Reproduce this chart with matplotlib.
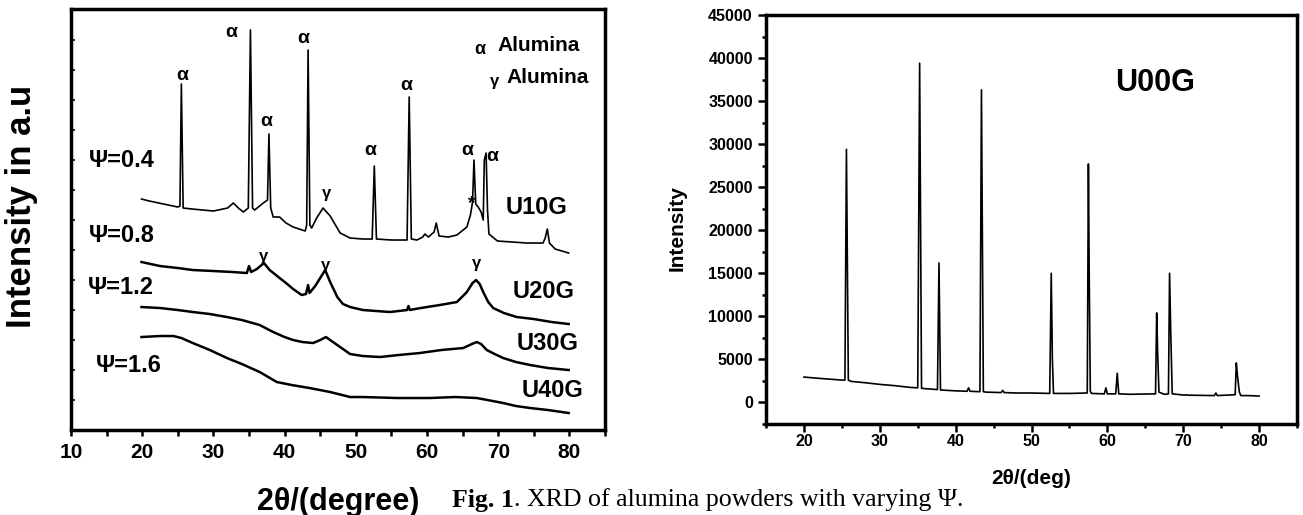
import matplotlib
matplotlib.use("Agg")
import matplotlib.pyplot as plt

plt.rcParams['font.family'] = ['Liberation Sans', 'DejaVu Sans']
plt.rcParams['font.weight'] = 'bold'

# ---- left panel: XRD of U10G..U40G (arbitrary units, stacked) ----
u10_x = [19.9, 21, 23, 25.0, 25.3, 25.5, 25.75, 27, 30, 32.0, 32.8, 33.5, 34.2, 34.9, 35.2, 35.5,
         35.8, 37.0, 37.6, 37.8, 38.05, 38.4, 39.3, 40.2, 41.2, 42.9, 43.1, 43.3, 43.55, 43.8, 44.5,
         45.4, 46.4, 47.8, 49.2, 51.0, 52.3, 52.6, 52.9, 55, 57.2, 57.5, 57.8, 58.6, 59.4, 59.7, 60.2,
         61.0, 61.3, 61.7, 63.0, 64.2, 65.6, 66.1, 66.4, 66.6, 66.85, 67.2, 67.6, 67.9, 68.05, 68.3,
         68.5, 68.7, 69.9, 72, 74, 76.3, 76.6, 76.9, 77.2, 78, 79.9]
u10_y = [231, 229, 226, 223, 224, 346, 222, 221, 219, 222, 227, 222, 218, 222, 400, 222,
         220, 227, 230, 296, 222, 213, 213, 207, 203, 199, 205, 380, 205, 202, 212,
         222, 214, 197, 192, 191, 191, 264, 191, 190, 190, 333, 191, 190, 193, 196, 193,
         198, 207, 194, 193, 195, 203, 215, 228, 270, 226, 223, 218, 210, 270, 277,
         220, 196, 189, 188, 187, 187, 192, 201, 187, 181, 177]

u20_x = [19.9, 22.5, 25, 27.1, 30, 32.7, 34.7, 35.0, 35.3, 36.1, 37.1, 37.9, 39.3, 40.2, 41.2, 42.4,
         43.0, 43.3, 43.5, 44.3, 45.0, 45.7, 46.4, 47.4, 48.2, 49.2, 51.0, 54.8, 57.2, 57.4, 57.6,
         58.3, 60, 61.8, 64.2, 65.6, 66.4, 66.9, 67.4, 67.9, 68.6, 69.3, 70.8, 72.6, 75, 77.5, 79.9]
u20_y = [168, 164, 162, 160, 159, 158, 157, 164, 158, 161, 167, 160, 152, 147, 141, 135,
         136, 145, 137, 144, 152, 160, 148, 133, 126, 123, 120, 118, 120, 124, 120,
         121, 123, 125, 128, 138, 147, 150, 146, 138, 128, 122, 117, 113, 111, 108, 106]

u30_x = [19.9, 22.5, 25, 27.1, 29.5, 31.9, 34, 36.5, 38.4, 40, 41.2, 42.5, 44, 45.0, 45.8, 46.6,
         47.4, 48.4, 49.2, 51, 53.4, 56, 59, 62, 65.1, 66.3, 67.0, 67.6, 68.4, 69.5, 70.7, 72.5,
         74.5, 77, 79.9]
u30_y = [123, 122, 120, 118, 116, 113, 110, 105, 98, 93, 90, 88, 87, 90, 93, 89,
         85, 80, 76, 74, 73, 75, 77, 80, 82, 86, 88, 86, 80, 76, 72, 68,
         65, 62, 60]

u40_x = [19.9, 22.5, 24.4, 25.5, 27.1, 29.5, 31.9, 34, 36.5, 38.9, 41, 43.5, 46.4, 49.2, 51,
         55.8, 60.4, 64, 67, 68.5, 70.7, 72.5, 74.5, 77, 79.9]
u40_y = [93, 94, 94, 92, 87, 80, 72, 66, 58, 48, 45, 42, 38, 33, 33,
         32, 32, 33, 32, 30, 27, 24, 22, 20, 17]

psi_labels = ["Ψ=0.4", "Ψ=0.8", "Ψ=1.2", "Ψ=1.6"]
psi_pos = [(17.2, 270), (17.2, 195), (17.0, 143), (18.1, 65)]
sample_labels = ["U10G", "U20G", "U30G", "U40G"]
sample_pos = [(75.4, 223), (76.4, 139), (77.0, 87), (77.6, 40)]
alpha_pos = [(25.6, 355), (32.5, 398), (37.4, 309), (42.6, 392), (52.1, 280),
             (57.1, 345), (65.6, 280), (69.1, 274)]
gamma_pos = [(45.9, 237), (37.1, 174), (45.7, 165), (67.0, 167)]

# ---- right panel: U00G ----
u00_x = [20, 22, 25.0, 25.4, 25.6, 25.85, 26.2, 28, 30, 32, 34, 35.0, 35.25, 35.5, 36, 37.6, 37.8,
         38.0, 39, 40, 41.5, 41.7, 41.9, 43.2, 43.4, 43.65, 44, 46.0, 46.2, 46.4, 48, 50, 52.4,
         52.6, 52.75, 52.9, 55, 57.35, 57.5, 57.6, 57.75, 57.9, 59.6, 59.8, 60.0, 61.1, 61.3,
         61.5, 63, 66.35, 66.5, 66.62, 66.8, 67.5, 68.05, 68.2, 68.35, 68.55, 70.2, 70.4, 70.6,
         74.1, 74.3, 74.5, 76.85, 77.0, 77.15, 77.4, 77.6, 78.5, 80]
u00_y = [2950, 2800, 2600, 2600, 29400, 2600, 2450, 2300, 2100, 1950, 1750, 1700, 39400, 1650,
         1600, 1500, 16200, 1450, 1400, 1350, 1300, 1700, 1300, 1250, 36300, 1250, 1200, 1150,
         1400, 1150, 1100, 1100, 1050, 15000, 5000, 1050, 1050, 1100, 27700, 15500, 1300, 1050,
         1000, 1700, 1000, 1000, 3400, 1000, 950, 1000, 10400, 6000, 1200, 950, 1000, 15000,
         8300, 1000, 850, 900, 850, 800, 1100, 800, 900, 4600, 3100, 1200, 800, 800, 750]

fig = plt.figure(figsize=(13.03, 5.15), dpi=100)

# left
ax1 = fig.add_axes([0.0545, 0.165, 0.4098, 0.8175])
for xs, ys, lw in [(u10_x, u10_y, 1.2), (u20_x, u20_y, 1.8), (u30_x, u30_y, 1.8), (u40_x, u40_y, 1.8)]:
    ax1.plot(xs, ys, color='black', lw=lw)
ax1.set_xlim(10, 85)
ax1.set_ylim(0, 421)
ax1.set_xticks(range(10, 81, 10))
ax1.set_xticks(range(15, 86, 10), minor=True)
ax1.set_yticks(range(0, 421, 30))
ax1.set_yticklabels([])
ax1.tick_params(axis='x', which='both', direction='out', length=4, width=1.8, labelsize=15, pad=5)
ax1.tick_params(axis='y', direction='in', length=3, width=1.2)
for s in ax1.spines.values():
    s.set_linewidth(2.5)
for t in ax1.get_xticklabels():
    t.set_fontweight('bold')
ax1.set_xlabel("2θ/(degree)", fontsize=22, fontweight='bold', labelpad=18)

for lab, (x, y) in zip(psi_labels, psi_pos):
    ax1.text(x, y, lab, fontsize=17, fontweight='bold', ha='center', va='center')
for lab, (x, y) in zip(sample_labels, sample_pos):
    ax1.text(x, y, lab, fontsize=17, fontweight='bold', ha='center', va='center')
for x, y in alpha_pos:
    ax1.text(x, y, "α", fontsize=14, fontweight='bold', ha='center', va='center')
for x, y in gamma_pos:
    ax1.text(x, y, "γ", fontsize=12, fontweight='bold', ha='center', va='center')
ax1.text(66.3, 226, "*", fontsize=14, fontweight='bold', ha='center', va='center')

# little legend in the corner
ax1.text(67.4, 381, "α", fontsize=13, fontweight='bold', ha='center', va='center')
ax1.text(69.9, 385, "Alumina", fontsize=15, fontweight='bold', ha='left', va='center')
ax1.text(69.5, 349, "γ", fontsize=12, fontweight='bold', ha='center', va='center')
ax1.text(71.1, 353, "Alumina", fontsize=15, fontweight='bold', ha='left', va='center')

fig.text(22 / 1303, 1 - 206 / 515, "Intensity in a.u", fontsize=25, fontweight='bold',
         rotation=90, ha='center', va='center')

# right
ax2 = fig.add_axes([0.5879, 0.1767, 0.4075, 0.7942])
ax2.plot(u00_x, u00_y, color='black', lw=1.2)
ax2.set_xlim(15, 85)
ax2.set_ylim(-2500, 45000)
ax2.set_xticks(range(20, 81, 10))
ax2.set_xticks(range(15, 86, 10), minor=True)
ax2.set_yticks(range(0, 45001, 5000))
ax2.set_yticks(range(-2500, 45001, 5000), minor=True)
ax2.tick_params(direction='out', length=5.5, width=1.8, labelsize=11.5)
ax2.tick_params(which='minor', direction='out', length=3, width=1.8)
ax2.tick_params(axis='x', pad=2)
ax2.tick_params(axis='y', pad=4)
for s in ax2.spines.values():
    s.set_linewidth(2.5)
for t in ax2.get_xticklabels() + ax2.get_yticklabels():
    t.set_fontweight('bold')
ax2.set_ylabel("Intensity", fontsize=15, fontweight='bold')
ax2.yaxis.set_label_coords(-0.149, 0.48)
ax2.set_xlabel("2θ/(deg)", fontsize=15, fontweight='bold', labelpad=14)
ax2.text(66.3, 37100, "U00G", fontsize=22, fontweight='bold', ha='center', va='center')

# caption
cap = fig.text(452 / 1303, 1 - 500 / 515, "Fig. 1", fontsize=18.6, fontweight='bold',
               family='Liberation Serif', va='center')
rest = fig.text(0, 0, ". XRD of alumina powders with varying Ψ.", fontsize=18.6, fontweight='normal',
                family='Liberation Serif', va='center')
# place the rest right after the bold part
fig.canvas.draw()
bb = cap.get_window_extent()
rest.set_position((bb.x1 / fig.bbox.width, 1 - 500 / 515))

fig.savefig("out.png", dpi=100)
